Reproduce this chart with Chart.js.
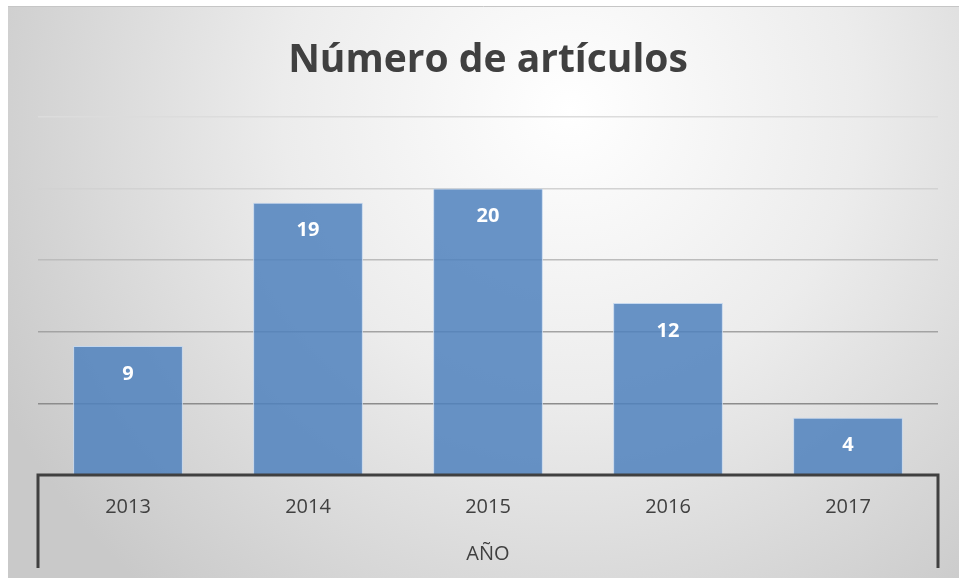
<!DOCTYPE html>
<html>
<head>
<meta charset="utf-8">
<script src="https://cdn.jsdelivr.net/npm/chart.js@4"></script>
<style>
  html, body { margin: 0; padding: 0; background: #fff; }
  .chart-parent { position: relative; width: 959px; height: 578px; }
</style>
</head>
<body>
<div class="chart-parent">
  <canvas id="myChart"></canvas>
</div>
<script>
const years = ['2013', '2014', '2015', '2016', '2017'];
const articles = [9, 19, 20, 12, 4];
const yTicks = [0, 5, 10, 15, 20, 25];
const titleText = 'Número de artículos';
const axisTitle = 'AÑO';

// grid lines get darker towards the bottom, like the original
const gridShades = ['#8a8a8a', '#8c8c8c', '#a3a3a3', '#bcbcbc', '#d2d2d2', '#dcdcdc'];

const backgroundPlugin = {
  id: 'bg',
  beforeDraw(chart) {
    const c = chart.ctx;
    const w = chart.width, h = chart.height;
    c.save();
    const g = c.createRadialGradient(570, 110, 0, 570, 110, 640);
    g.addColorStop(0, '#ffffff');
    g.addColorStop(0.45, '#ececec');
    g.addColorStop(1, '#c9c9c9');
    c.fillStyle = g;
    c.fillRect(8, 6, w - 8, h - 6);
    c.strokeStyle = '#c6c6c6';
    c.lineWidth = 1;
    c.beginPath();
    c.moveTo(8, 6.5);
    c.lineTo(w, 6.5);
    c.stroke();
    c.restore();
  }
};

const axisBracketPlugin = {
  id: 'bracket',
  afterDraw(chart) {
    const c = chart.ctx;
    const a = chart.chartArea;
    c.save();
    c.strokeStyle = '#404040';
    c.lineWidth = 3;
    c.beginPath();
    c.moveTo(a.left, chart.height - 10);
    c.lineTo(a.left, a.bottom);
    c.lineTo(a.right, a.bottom);
    c.lineTo(a.right, chart.height - 10);
    c.stroke();
    c.restore();
  }
};

const barLabelPlugin = {
  id: 'barLabels',
  afterDatasetsDraw(chart) {
    const c = chart.ctx;
    const meta = chart.getDatasetMeta(0);
    c.save();
    c.fillStyle = '#ffffff';
    c.font = 'bold 20px "Open Sans", sans-serif';
    c.textAlign = 'center';
    c.textBaseline = 'middle';
    meta.data.forEach((bar, i) => {
      c.fillText(String(articles[i]), bar.x, bar.y + 28);
    });
    c.restore();
  }
};

const ctx = document.getElementById('myChart');
const myChart = new Chart(ctx, {
  type: 'bar',
  data: {
    labels: years,
    datasets: [
      {
        label: titleText,
        data: articles,
        backgroundColor: 'rgba(79, 129, 189, 0.85)',
        borderColor: 'rgba(195, 215, 238, 0.95)',
        borderWidth: 1,
        barPercentage: 0.61,
        categoryPercentage: 1,
      },
    ],
  },
  options: {
    responsive: true,
    maintainAspectRatio: false,
    animation: false,
    layout: {
      padding: { left: 38, right: 21, top: 0, bottom: 12 },
    },
    plugins: {
      legend: { display: false },
      tooltip: { enabled: false },
      title: {
        display: true,
        text: titleText,
        color: '#404040',
        font: { family: '"Open Sans", sans-serif', size: 39, weight: 'bold' },
        padding: { top: 37, bottom: 33 },
      },
    },
    scales: {
      x: {
        grid: { display: false },
        border: { display: false },
        ticks: {
          color: '#404040',
          font: { family: '"Open Sans", sans-serif', size: 20 },
          padding: 12,
        },
        title: {
          display: true,
          text: axisTitle,
          color: '#404040',
          font: { family: '"Open Sans", sans-serif', size: 20 },
          padding: { top: 11, bottom: 0 },
        },
      },
      y: {
        min: yTicks[0],
        max: yTicks[yTicks.length - 1],
        afterBuildTicks(axis) {
          axis.ticks = yTicks.map(v => ({ value: v }));
        },
        ticks: { display: false },
        border: { display: false },
        grid: {
          drawTicks: false,
          lineWidth: 1.5,
          color: (c) => gridShades[c.index] || '#cccccc',
        },
      },
    },
  },
  plugins: [backgroundPlugin, axisBracketPlugin, barLabelPlugin],
});
</script>
</body>
</html>
